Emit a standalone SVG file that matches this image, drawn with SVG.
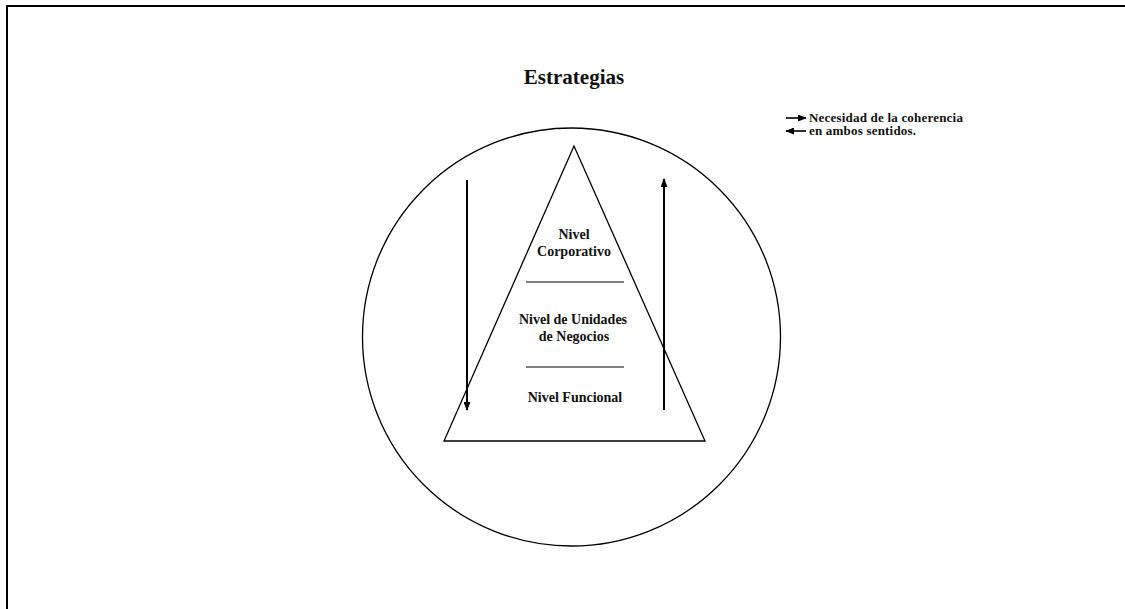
<svg xmlns="http://www.w3.org/2000/svg" width="1125" height="609" viewBox="0 0 1125 609">
  <style>
    .ln { stroke: #000; fill: none; }
    .txt { font-family: "Liberation Serif", "Times New Roman", serif; font-weight: bold; fill: #111; text-anchor: middle; }
    .leg { font-family: "Liberation Serif", "Times New Roman", serif; font-weight: bold; fill: #111; font-size: 13px; letter-spacing: 0.2px; }
  </style>
  <defs>
    <marker id="head" viewBox="0 0 10 10" refX="9" refY="5" markerWidth="9" markerHeight="7" orient="auto-start-reverse" markerUnits="userSpaceOnUse" preserveAspectRatio="none">
      <path d="M0,0 L10,5 L0,10 z" fill="#000"/>
    </marker>
  </defs>

  <rect width="1125" height="609" fill="#fff"/>
  <!-- frame: top and left edges -->
  <path class="ln" d="M7,609 V6 H1125" stroke-width="2"/>

  <text class="txt" x="574" y="84" font-size="21">Estrategias</text>

  <g id="circle">
    <circle class="ln" cx="571.5" cy="337" r="209" stroke-width="1.3"/>
  </g>

  <g id="pyramid">
    <polygon class="ln" points="574,146 444,441 705,441" stroke-width="1.3"/>
    <line class="ln" x1="526" y1="282" x2="624" y2="282" stroke-width="1"/>
    <line class="ln" x1="526" y1="367" x2="624" y2="367" stroke-width="1"/>
  </g>

  <g id="nivel-corporativo">
    <text class="txt" x="574" y="239" font-size="14">Nivel</text>
    <text class="txt" x="574" y="256" font-size="14">Corporativo</text>
  </g>
  <g id="nivel-unidades">
    <text class="txt" x="573" y="324" font-size="14">Nivel de Unidades</text>
    <text class="txt" x="574" y="341" font-size="14">de Negocios</text>
  </g>
  <g id="nivel-funcional">
    <text class="txt" x="575" y="402" font-size="14">Nivel Funcional</text>
  </g>

  <g id="connectors">
    <line class="ln" x1="467" y1="180" x2="467" y2="410" stroke-width="2" marker-end="url(#head)"/>
    <line class="ln" x1="664" y1="410" x2="664" y2="179" stroke-width="2" marker-end="url(#head)"/>
  </g>

  <g id="legend">
    <line class="ln" x1="786" y1="118" x2="806" y2="118" stroke-width="1.6" marker-end="url(#head)"/>
    <line class="ln" x1="806" y1="131" x2="786" y2="131" stroke-width="1.6" marker-end="url(#head)"/>
    <text class="leg" x="809" y="122">Necesidad de la coherencia</text>
    <text class="leg" x="809" y="135">en ambos sentidos.</text>
  </g>
</svg>
